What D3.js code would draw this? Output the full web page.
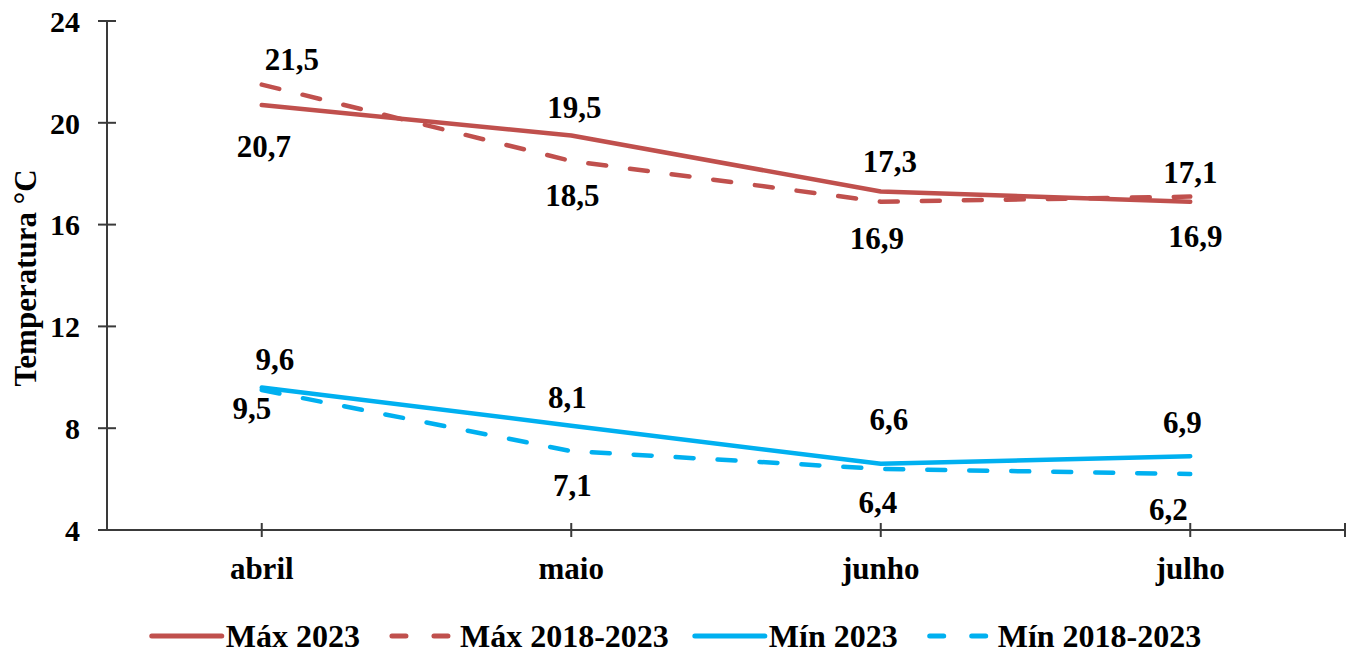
<!DOCTYPE html>
<html><head><meta charset="utf-8">
<script src="https://cdn.jsdelivr.net/npm/d3@7"></script>
<style>
html,body{margin:0;padding:0;background:#fff;}
svg text{font-family:"Liberation Serif","Times New Roman",serif;font-weight:bold;fill:#000;}
</style></head>
<body>
<svg id="chart" width="1359" height="655"></svg>
<script>
// ---- data ----
const months = ["abril", "maio", "junho", "julho"];
const max2023 = [20.7, 19.5, 17.3, 16.9];
const max1823 = [21.5, 18.5, 16.9, 17.1];
const min2023 = [9.6, 8.1, 6.6, 6.9];
const min1823 = [9.5, 7.1, 6.4, 6.2];
const yTicks = [4, 8, 12, 16, 20, 24];
const seriesNames = ["Máx 2023", "Máx 2018-2023", "Mín 2023", "Mín 2018-2023"];
const yTitle = "Temperatura °C";

// ---- layout / styling ----
const colors = ["#C0504D", "#C0504D", "#00B0F0", "#00B0F0"];
const dashed = [false, true, false, true];
// label offsets (dx, dy) of label centre from point
const labelOffsets = [
  [[2, 42], [3, -28], [9, -30], [5, 35]],
  [[30, -25], [1, 35], [-4, 37], [0, -24]],
  [[13, -28], [-4, -28], [8, -44], [-8, -34]],
  [[-10, 18], [1, 34], [-3, 34], [-22, 35]]
];
const seriesData = [max2023, max1823, min2023, min1823];

const svg = d3.select("#chart");
const pLeft = 107, pRight = 1345, pTop = 21, pBottom = 530;

const x = d3.scaleBand().domain(months).range([pLeft, pRight]).padding(0);
const y = d3.scaleLinear().domain([4, 24]).range([pBottom, pTop]);
const cx = m => x(m) + x.bandwidth() / 2;

const axisColor = "#3a3a3a";

// y axis
const yAxis = svg.append("g").attr("transform", `translate(${pLeft},0)`)
  .call(d3.axisLeft(y).tickValues(yTicks).tickSize(0).tickFormat(d3.format("d")));
yAxis.select(".domain").remove();
yAxis.selectAll("text").attr("x", -27).attr("dy", "0.34em")
  .style("font-size", "30px").style("font-family", '"Liberation Serif","Times New Roman",serif').style("font-weight", "bold");
svg.append("line").attr("x1", pLeft).attr("x2", pLeft).attr("y1", pTop).attr("y2", pBottom)
  .attr("stroke", axisColor).attr("stroke-width", 2);
svg.selectAll(".ytick").data(yTicks).enter().append("line")
  .attr("x1", pLeft - 9).attr("x2", pLeft + 9)
  .attr("y1", d => y(d)).attr("y2", d => y(d))
  .attr("stroke", axisColor).attr("stroke-width", 2);

// x axis
svg.append("line").attr("x1", pLeft).attr("x2", pRight).attr("y1", pBottom).attr("y2", pBottom)
  .attr("stroke", axisColor).attr("stroke-width", 2);
const xTickPos = months.map(cx).concat([pRight]);
svg.selectAll(".xtick").data(xTickPos).enter().append("line")
  .attr("x1", d => d).attr("x2", d => d)
  .attr("y1", pBottom - 7).attr("y2", pBottom + 7)
  .attr("stroke", axisColor).attr("stroke-width", 2);
svg.selectAll(".xlab").data(months).enter().append("text")
  .attr("x", d => cx(d)).attr("y", 579).attr("text-anchor", "middle")
  .style("font-size", "31px").text(d => d);

// y title
svg.append("text").attr("transform", "translate(36,278) rotate(-90)")
  .attr("text-anchor", "middle").style("font-size", "31px").text(yTitle);

// lines
const line = d3.line().x((d, i) => cx(months[i])).y(d => y(d));
seriesData.forEach((vals, s) => {
  svg.append("path").attr("d", line(vals)).attr("fill", "none")
    .attr("stroke", colors[s]).attr("stroke-width", 4.5)
    .attr("stroke-linecap", "round").attr("stroke-linejoin", "round")
    .attr("stroke-dasharray", dashed[s] ? "18,24" : null);
});

// data labels
const fmt = v => d3.format(".1f")(v).replace(".", ",");
seriesData.forEach((vals, s) => {
  svg.selectAll(".lab" + s).data(vals).enter().append("text")
    .attr("x", (d, i) => cx(months[i]) + labelOffsets[s][i][0])
    .attr("y", (d, i) => y(d) + labelOffsets[s][i][1] + 10.5)
    .attr("text-anchor", "middle").style("font-size", "31px").text(d => fmt(d));
});

// legend
const lg = svg.append("g");
let lx = 0;
const sampleW = 72, gapT = 4, gapItem = 24, ly = 636;
seriesNames.forEach((name, s) => {
  const g = lg.append("g").attr("transform", `translate(${lx},0)`);
  if (dashed[s]) {
    g.append("line").attr("x1", 8).attr("x2", sampleW - 8).attr("y1", ly).attr("y2", ly)
      .attr("stroke", colors[s]).attr("stroke-width", 5).attr("stroke-linecap", "round")
      .attr("stroke-dasharray", "14,28");
  } else {
    g.append("line").attr("x1", 2).attr("x2", sampleW).attr("y1", ly).attr("y2", ly)
      .attr("stroke", colors[s]).attr("stroke-width", 5).attr("stroke-linecap", "round");
  }
  const t = g.append("text").attr("x", sampleW + gapT).attr("y", 647)
    .style("font-size", "32px").text(name);
  lx += sampleW + gapT + t.node().getComputedTextLength() + gapItem;
});
lx -= gapItem;
lg.attr("transform", `translate(${(155 + 1196) / 2 - lx / 2},0)`);
</script>
</body></html>
